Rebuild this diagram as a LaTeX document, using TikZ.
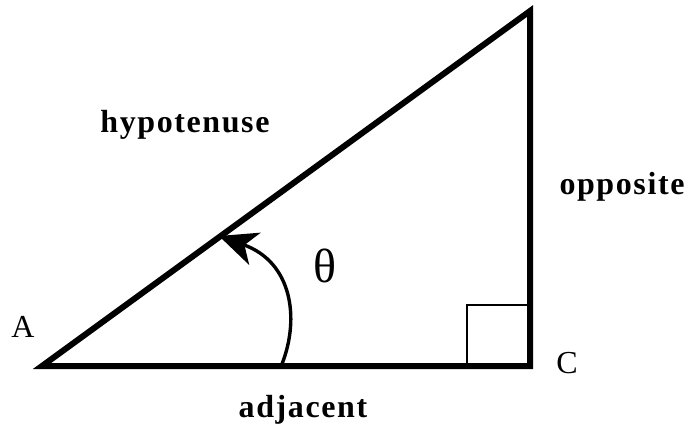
\documentclass[tikz,border=0pt]{standalone}
\usepackage{fontspec}
\setmainfont{Liberation Serif}
\usetikzlibrary{arrows.meta,positioning}
\newfontfamily\sidefont[LetterSpace=5]{Liberation Serif}

\begin{document}
\begin{tikzpicture}[x=1pt,y=-1pt,
    side/.style={line width=6pt, line cap=round, line join=miter},
    sidelabel/.style={font=\sidefont\fontsize{32}{35}\selectfont\bfseries, inner sep=0pt, anchor=base},
    vertex/.style={font=\fontsize{32}{36}\selectfont, inner sep=0pt, anchor=base},
    turn/.style={-{Stealth[length=38pt,width=34pt,inset=11pt]}, line width=3.4pt},
]
    \useasboundingbox (0,0) rectangle (691,426);
    \coordinate (A) at (42,366);
    \coordinate (B) at (530,11);
    \coordinate (C) at (530,366);

    \draw[side] (A) -- (C) -- (B) -- cycle;
    \draw[line width=1.5pt] (467,366) |- (527,305);

    \node[sidelabel] (hyp) at (185,132) {hypotenuse};
    \node[sidelabel] (opp) at (622,194) {opposite};
    \node[sidelabel] (adj) at (303,417) {adjacent};
    \node[vertex] (labA) at (23,337) {A};
    \node[vertex] (labC) at (567,373) {C};
    \node[font=\fontsize{48}{52}\selectfont, inner sep=0pt] (theta) at (325,266) {θ};

    \coordinate (arcstart) at (282,364);
    \coordinate (arcend) at (219,236);
    \draw[turn] (arcstart) .. controls (300,318) and (292,262) .. (arcend);
\end{tikzpicture}
\end{document}
